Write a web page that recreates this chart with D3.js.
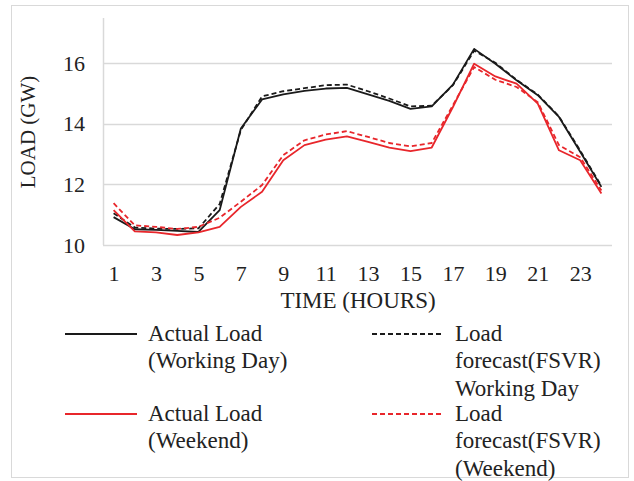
<!DOCTYPE html>
<html>
<head>
<meta charset="utf-8">
<script src="https://cdn.jsdelivr.net/npm/d3@7"></script>
<style>
  html, body { margin: 0; padding: 0; background: #fff; }
  svg { display: block; }
  text { font-family: "Liberation Serif", "Times New Roman", serif; fill: #222; }
</style>
</head>
<body>
<svg id="chart" width="634" height="481"></svg>
<script>
// Hourly load profiles (GW)
const hours = d3.range(1, 25);
const actualWorking   = [10.92, 10.52, 10.50, 10.47, 10.43, 11.15, 13.85, 14.81, 14.98, 15.09, 15.17, 15.19, 14.98, 14.76, 14.50, 14.58, 15.30, 16.48, 15.99, 15.44, 14.95, 14.23, 13.08, 11.92];
const forecastWorking = [11.05, 10.58, 10.54, 10.53, 10.55, 11.35, 13.80, 14.91, 15.08, 15.18, 15.28, 15.30, 15.08, 14.84, 14.58, 14.60, 15.28, 16.42, 16.02, 15.46, 14.97, 14.25, 13.12, 11.95];
const actualWeekend   = [11.15, 10.45, 10.42, 10.33, 10.42, 10.60, 11.26, 11.76, 12.80, 13.30, 13.48, 13.59, 13.41, 13.22, 13.10, 13.22, 14.56, 15.99, 15.57, 15.33, 14.67, 13.13, 12.80, 11.70];
const forecastWeekend = [11.38, 10.65, 10.60, 10.53, 10.60, 10.90, 11.43, 11.98, 12.97, 13.46, 13.65, 13.76, 13.57, 13.37, 13.26, 13.37, 14.62, 15.88, 15.46, 15.22, 14.72, 13.30, 12.90, 11.80];
const yTicks = [10, 12, 14, 16];
const xTickLabels = [1, 3, 5, 7, 9, 11, 13, 15, 17, 19, 21, 23];

const series = [
  { name: ["Actual Load", "(Working Day)"], values: actualWorking, color: "#1a1a1a", dash: null },
  { name: ["Load", "forecast(FSVR)", "Working Day"], values: forecastWorking, color: "#1a1a1a", dash: "5,3" },
  { name: ["Actual Load", "(Weekend)"], values: actualWeekend, color: "#e8262b", dash: null },
  { name: ["Load", "forecast(FSVR)", "(Weekend)"], values: forecastWeekend, color: "#e8262b", dash: "5,3" }
];

const svg = d3.select("#chart");

// outer chart frame
svg.append("rect")
  .attr("x", 11.5).attr("y", 5.5).attr("width", 617).attr("height", 472)
  .attr("fill", "#fff").attr("stroke", "#d9d9d9").attr("stroke-width", 1);

const plot = { left: 103, right: 612, top: 18, bottom: 245 };

const x = d3.scalePoint()
  .domain(hours)
  .range([plot.left, plot.right])
  .padding(0.5);

const y = d3.scaleLinear()
  .domain([10, 17.5])
  .range([plot.bottom, plot.top]);

// horizontal gridlines
svg.append("g")
  .selectAll("line")
  .data(yTicks)
  .join("line")
  .attr("x1", plot.left).attr("x2", plot.right)
  .attr("y1", d => Math.round(y(d)) + 0.5).attr("y2", d => Math.round(y(d)) + 0.5)
  .attr("stroke", "#d9d9d9").attr("stroke-width", 1.5);

// vertical axis line
svg.append("line")
  .attr("x1", plot.left + 0.5).attr("x2", plot.left + 0.5)
  .attr("y1", plot.top).attr("y2", plot.bottom)
  .attr("stroke", "#d9d9d9").attr("stroke-width", 1.5);

// y axis labels
const yAxis = d3.axisLeft(y).tickValues(yTicks).tickSize(0).tickPadding(18);
const gy = svg.append("g").attr("transform", `translate(${plot.left},0)`).call(yAxis);
gy.select(".domain").remove();
gy.selectAll("text").attr("font-size", 22).attr("font-family", "Liberation Serif").attr("fill", "#222");

// x axis labels
const xAxis = d3.axisBottom(x).tickValues(xTickLabels).tickSize(0).tickPadding(20);
const gx = svg.append("g").attr("transform", `translate(0,${plot.bottom})`).call(xAxis);
gx.select(".domain").remove();
gx.selectAll("text").attr("font-size", 22).attr("font-family", "Liberation Serif").attr("fill", "#222");

// axis titles
svg.append("text")
  .attr("x", 358).attr("y", 300)
  .attr("text-anchor", "middle").attr("dominant-baseline", "central")
  .attr("font-size", 23).text("TIME (HOURS)");

svg.append("text")
  .attr("transform", "translate(28,132) rotate(-90)")
  .attr("text-anchor", "middle").attr("dominant-baseline", "central")
  .attr("font-size", 21).text("LOAD (GW)");

// series lines
const line = d3.line()
  .x((d, i) => x(hours[i]))
  .y(d => y(d));

svg.append("g")
  .selectAll("path")
  .data(series)
  .join("path")
  .attr("d", d => line(d.values))
  .attr("fill", "none")
  .attr("stroke", d => d.color)
  .attr("stroke-width", 1.8)
  .attr("stroke-dasharray", d => d.dash)
  .attr("stroke-linejoin", "round");

// legend, two columns
const legendPos = [
  { lx: 65, tx: 148, y: 333 },
  { lx: 372, tx: 455, y: 333 },
  { lx: 65, tx: 148, y: 413 },
  { lx: 372, tx: 455, y: 413 }
];
const lineH = 27.5;
const legend = svg.append("g");
series.forEach((s, i) => {
  const p = legendPos[i];
  legend.append("line")
    .attr("x1", p.lx).attr("x2", p.lx + 72)
    .attr("y1", p.y + 1).attr("y2", p.y + 1)
    .attr("stroke", s.color).attr("stroke-width", 1.8)
    .attr("stroke-dasharray", s.dash ? "5,3" : null);
  s.name.forEach((t, j) => {
    legend.append("text")
      .attr("x", p.tx).attr("y", p.y + j * lineH)
      .attr("dominant-baseline", "central")
      .attr("font-size", 23).text(t);
  });
});
</script>
</body>
</html>
